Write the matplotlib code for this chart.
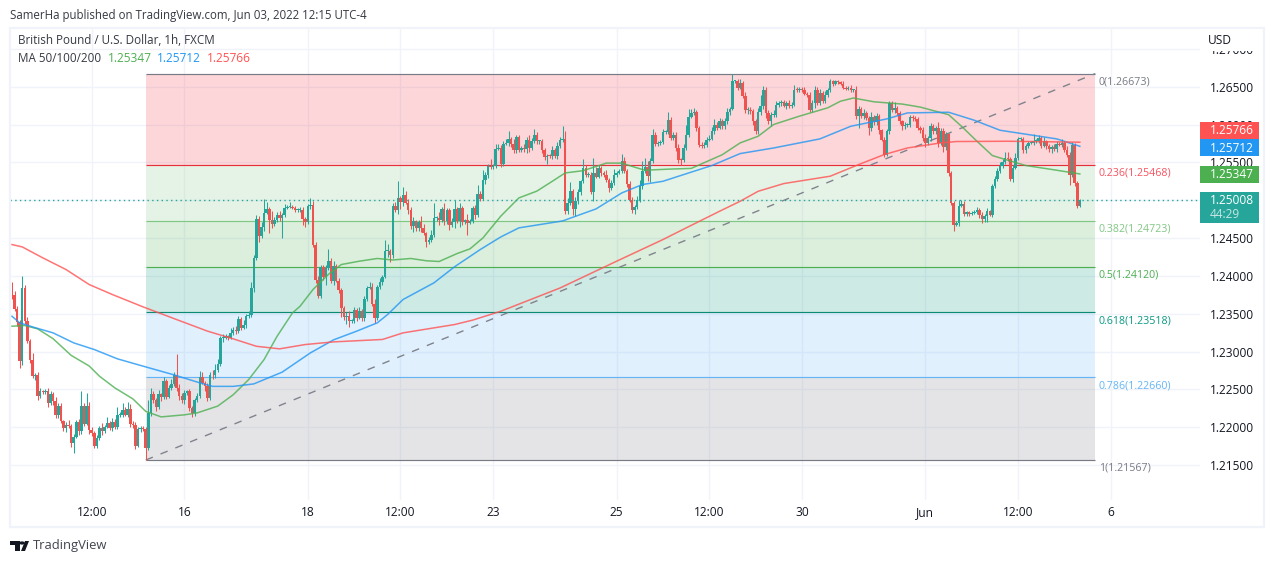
"""GBP/USD 1h chart with fibonacci retracement and moving averages"""

import matplotlib
matplotlib.use("Agg")
import matplotlib.pyplot as plt
from matplotlib.patches import Rectangle, Polygon
import numpy as np

W, H = 1274, 563
plt.rcParams['font.family'] = ['Open Sans', 'DejaVu Sans']

# closes, in pips above 1.2000
open_first = 375.4
close_pips = [
    374.1, 356.4, 339.3, 287.3, 384.2, 340.1, 313.7, 289.5, 267.5, 269.7,
    241.9, 247.7, 246.3, 247.7, 232.2, 244.6, 234.4, 216.8, 228.7, 208.0,
    199.2, 203.6, 202.3, 179.4, 187.3, 207.1, 194.8, 228.7, 204.9, 228.7,
    197.0, 192.6, 175.0, 186.0, 199.2, 195.2, 200.5, 205.8, 199.2, 206.7,
    200.1, 216.8, 216.8, 223.4, 216.8, 224.3, 204.9, 203.6, 175.9, 197.9,
    199.2, 197.9, 172.8, 219.0, 243.3, 235.8, 227.0, 243.3, 240.2, 260.9,
    240.2, 252.1, 257.8, 269.2, 252.1, 241.9, 235.8, 245.5, 247.7, 225.6,
    219.0, 236.6, 241.9, 266.6, 258.7, 254.3, 238.8, 269.7, 268.4, 276.3,
    284.2, 318.1, 318.1, 320.3, 318.1, 324.7, 329.1, 326.9, 343.2, 331.3,
    335.7, 346.7, 348.9, 384.2, 424.0, 475.3, 452.4, 464.7, 483.2, 488.5,
    474.4, 469.1, 474.4, 481.0, 476.6, 481.0, 489.8, 491.2, 491.2, 489.8,
    486.8, 487.7, 487.7, 475.3, 470.9, 492.1, 494.3, 441.4, 395.2, 373.2,
    411.9, 398.3, 410.6, 420.3, 393.0, 413.7, 393.9, 382.0, 357.7, 345.9,
    347.6, 340.1, 340.1, 354.7, 344.5, 353.3, 343.7, 368.8, 384.2, 385.5,
    363.5, 344.5, 385.5, 391.7, 398.7, 432.6, 432.6, 428.2, 492.1, 487.7,
    503.1, 497.4, 507.5, 496.5, 487.7, 465.6, 472.3, 463.4, 470.9, 463.4,
    456.0, 444.5, 448.0, 454.6, 476.7, 476.7, 473.6, 488.5, 472.3, 486.8,
    467.8, 470.9, 488.5, 472.3, 489.9, 470.9, 473.6, 470.0, 472.3, 489.9,
    481.0, 508.8, 501.8, 527.3, 533.9, 544.9, 544.0, 545.8, 567.8, 569.1,
    548.4, 574.8, 575.7, 581.0, 574.4, 566.0, 583.6, 566.9, 569.1, 567.8,
    580.1, 569.1, 577.9, 586.7, 577.9, 577.9, 566.0, 557.2, 559.0, 558.1,
    566.0, 559.0, 572.2, 580.1, 581.0, 485.4, 496.4, 511.8, 488.5, 498.6,
    510.5, 525.0, 542.7, 533.9, 533.9, 510.5, 536.1, 530.8, 542.7, 536.1,
    533.9, 526.4, 516.2, 522.8, 533.9, 536.1, 538.3, 551.5, 538.3, 522.0,
    500.8, 486.7, 491.1, 500.8, 518.4, 538.3, 544.0, 531.7, 551.5, 586.7,
    574.8, 575.7, 576.6, 589.8, 589.8, 606.5, 582.3, 586.7, 569.1, 553.7,
    552.8, 569.1, 586.7, 610.1, 615.3, 616.2, 595.5, 573.5, 572.2, 573.5,
    580.1, 581.0, 591.1, 599.9, 595.5, 604.3, 597.7, 604.3, 616.2, 620.6,
    657.2, 657.2, 648.4, 655.0, 637.4, 619.7, 619.7, 617.5, 604.3, 591.1,
    616.2, 624.1, 646.2, 615.3, 604.3, 613.1, 613.1, 625.5, 628.5, 629.4,
    625.0, 628.5, 625.0, 626.3, 646.2, 645.3, 647.0, 646.2, 640.4, 639.6,
    619.7, 628.5, 646.2, 628.5, 641.8, 630.8, 639.6, 645.3, 657.2, 654.1,
    657.2, 655.9, 654.1, 648.4, 647.0, 648.4, 645.3, 645.3, 610.9, 620.6,
    611.8, 615.3, 608.7, 595.5, 610.1, 603.0, 610.9, 592.4, 580.1, 560.3,
    591.1, 628.5, 619.7, 621.9, 615.3, 604.3, 597.7, 599.9, 599.9, 610.1,
    608.7, 607.4, 595.5, 593.3, 582.3, 575.7, 582.3, 597.7, 591.1, 595.5,
    575.7, 591.1, 570.4, 588.0, 536.1, 496.4, 467.8, 470.0, 492.9, 495.6,
    482.3, 484.1, 482.3, 483.2, 484.1, 487.6, 481.0, 475.3, 478.8, 485.4,
    481.0, 518.4, 528.1, 538.3, 544.9, 550.2, 555.9, 554.6, 528.1, 542.7,
    555.9, 581.0, 581.0, 566.0, 572.2, 575.7, 575.7, 577.9, 577.9, 582.3,
    572.2, 577.9, 572.2, 567.8, 570.4, 567.8, 574.8, 573.5, 575.7, 566.9,
    560.3, 533.9, 573.5, 522.8, 492.0, 500.8,
]
upper_wick = [
    16, 6, 4, 3, 16, 4, 5, 3, 8, 2, 3, 4, 2, 3, 4, 3, 2, 6, 4, 3,
    2, 3, 6, 2, 4, 3, 4, 19, 3, 16, 5, 3, 2, 4, 3, 6, 2, 8, 3, 5,
    4, 10, 3, 8, 4, 9, 6, 4, 3, 2, 3, 2, 3, 17, 8, 4, 3, 6, 2, 5,
    3, 4, 6, 4, 28, 5, 3, 4, 2, 3, 3, 2, 3, 8, 6, 3, 4, 3, 6, 7,
    6, 3, 5, 3, 2, 7, 3, 5, 4, 3, 6, 3, 5, 8, 3, 5, 4, 6, 18, 9,
    3, 11, 4, 3, 5, 2, 5, 3, 6, 2, 3, 2, 3, 3, 3, 3, 8, 5, 3, 4,
    2, 3, 4, 15, 3, 6, 2, 3, 2, 2, 5, 6, 3, 4, 3, 5, 3, 4, 3, 7,
    5, 6, 3, 5, 3, 15, 10, 3, 4, 5, 22, 3, 10, 4, 5, 3, 6, 2, 3, 8,
    5, 2, 4, 6, 19, 3, 8, 3, 8, 3, 3, 5, 12, 3, 6, 3, 2, 8, 3, 3,
    4, 11, 3, 12, 4, 3, 9, 2, 7, 5, 4, 3, 5, 11, 3, 6, 3, 2, 3, 5,
    3, 6, 4, 8, 3, 2, 3, 3, 2, 2, 6, 3, 5, 4, 17, 10, 6, 12, 3, 5,
    4, 2, 12, 4, 3, 3, 20, 8, 4, 3, 2, 6, 3, 4, 7, 2, 3, 9, 6, 3,
    3, 4, 3, 5, 8, 13, 12, 8, 4, 7, 4, 3, 3, 4, 3, 10, 4, 3, 3, 5,
    2, 5, 12, 10, 5, 5, 3, 3, 3, 4, 4, 5, 6, 7, 3, 4, 3, 4, 5, 2,
    10, 2, 3, 5, 3, 5, 4, 3, 3, 3, 6, 15, 5, 3, 4, 3, 6, 5, 3, 3,
    3, 2, 4, 3, 6, 3, 3, 2, 3, 2, 3, 4, 5, 3, 5, 3, 5, 3, 3, 2,
    2, 2, 2, 3, 2, 2, 4, 2, 6, 4, 3, 5, 3, 3, 6, 2, 4, 3, 2, 3,
    3, 2, 3, 8, 2, 3, 2, 3, 2, 3, 2, 2, 2, 3, 3, 5, 3, 4, 3, 3,
    8, 4, 4, 2, 1, 2, 3, 3, 7, 4, 3, 2, 2, 3, 3, 3, 2, 3, 3, 4,
    2, 3, 4, 4, 5, 4, 8, 8, 3, 4, 6, 3, 3, 3, 2, 2, 3, 9, 3, 4,
    3, 6, 2, 2, 2, 4, 3, 2, 5, 2, 5, 3, 3, 2, 3, 1,
]
lower_wick = [
    4, 3, 6, 9, 5, 4, 3, 4, 3, 5, 6, 3, 2, 3, 6, 3, 5, 4, 5, 3,
    4, 6, 3, 5, 13, 2, 5, 4, 3, 2, 6, 4, 2, 3, 3, 5, 3, 2, 3, 4,
    3, 2, 3, 3, 2, 3, 5, 4, 4, 2, 4, 3, 16, 3, 4, 4, 6, 3, 6, 3,
    3, 2, 3, 3, 4, 6, 4, 5, 3, 4, 5, 4, 3, 3, 2, 6, 4, 3, 4, 3,
    3, 3, 6, 2, 3, 2, 3, 4, 2, 3, 2, 4, 3, 3, 5, 3, 8, 3, 5, 2,
    18, 6, 3, 3, 4, 26, 3, 2, 2, 2, 3, 3, 3, 8, 6, 2, 4, 3, 4, 3,
    3, 4, 10, 3, 3, 5, 2, 4, 12, 4, 9, 8, 2, 3, 4, 2, 3, 3, 2, 2,
    3, 7, 3, 3, 4, 2, 8, 10, 4, 3, 6, 9, 5, 2, 6, 3, 8, 4, 4, 5,
    2, 6, 3, 3, 3, 4, 6, 3, 5, 4, 7, 3, 8, 3, 8, 4, 2, 16, 2, 3,
    6, 3, 3, 2, 6, 4, 3, 3, 3, 2, 4, 3, 2, 4, 4, 4, 3, 3, 3, 4,
    5, 5, 3, 2, 4, 4, 3, 4, 10, 3, 4, 3, 4, 3, 3, 3, 4, 3, 8, 10,
    3, 4, 2, 3, 3, 2, 11, 2, 2, 4, 3, 3, 6, 3, 3, 3, 2, 2, 3, 4,
    3, 4, 5, 3, 3, 4, 3, 6, 8, 2, 3, 3, 3, 3, 3, 3, 3, 3, 4, 4,
    6, 2, 3, 3, 2, 3, 4, 3, 3, 3, 3, 2, 2, 3, 3, 2, 4, 3, 3, 3,
    2, 3, 3, 2, 3, 5, 6, 3, 5, 4, 3, 3, 3, 7, 4, 6, 3, 3, 3, 4,
    2, 4, 3, 3, 2, 3, 3, 3, 2, 3, 3, 3, 7, 3, 3, 3, 3, 3, 2, 3,
    2, 2, 2, 2, 2, 2, 3, 2, 3, 16, 3, 4, 3, 9, 4, 3, 3, 5, 2, 3,
    2, 4, 3, 4, 3, 4, 5, 3, 3, 3, 4, 3, 3, 4, 4, 6, 3, 4, 3, 3,
    6, 3, 7, 4, 4, 3, 9, 2, 4, 2, 3, 3, 3, 2, 2, 2, 4, 5, 4, 7,
    2, 3, 2, 3, 3, 2, 2, 3, 3, 4, 2, 3, 3, 4, 3, 3, 2, 3, 2, 2,
    3, 2, 4, 4, 6, 3, 4, 2, 3, 3, 3, 14, 3, 4, 2, 1,
]

# moving averages, bar number and pips above 1.2000
ma50_bar = [0, 5, 10, 16, 23, 30, 34, 40, 47, 52, 58, 67, 72, 80, 86, 92, 98, 103, 109, 112, 117, 123, 128,
            135, 142, 148, 155, 161, 166, 173, 178, 183, 190, 197, 204, 210, 215, 222, 231, 237, 242, 246,
            255, 264, 270, 276, 283, 290, 296, 306, 317, 322, 327, 335, 346, 353, 359, 364, 369, 375, 381,
            387, 394, 406, 415]
ma50_val = [333.5, 334.4, 330, 317, 295, 281, 267.5, 252, 237.5, 221, 213.7, 216.4, 219, 228, 243, 263, 289.5,
            320, 351, 360, 382, 402, 415, 419.4, 423, 421, 423, 420, 419, 429.5, 435.7, 450, 479, 503, 512,
            525, 536, 539, 549, 549, 543.6, 539.6, 541, 542, 551, 560, 575.7, 584.5, 600, 611, 622, 630.8,
            635, 630, 627, 623, 617.5, 613, 597.7, 578, 559, 552.8, 545.8, 539.6, 534.7]
ma100_bar = [0, 3, 8, 16, 24, 32, 41, 51, 63, 73, 78, 86, 94, 105, 116, 125, 134, 142, 146, 152, 164, 172, 182,
             190, 197, 214, 227, 237, 245, 253, 263, 272, 283, 296, 314, 326, 340, 348, 364, 374, 384, 395,
             406, 415]
ma100_val = [346.7, 338, 332.6, 324.7, 311.5, 302.7, 290.4, 280.7, 269.2, 258.7, 254, 254, 257.3, 272.8, 298.3,
             315.5, 327, 338, 349, 368.8, 390.8, 412, 434.8, 451.5, 463.4, 472.6, 488.5, 509.6, 520.7, 525,
             536, 545.8, 561.6, 569, 581, 597.7, 607.4, 615.3, 616.2, 605.6, 592.4, 586.7, 581, 571.2]
ma200_bar = [0, 4, 12, 21, 30, 39, 51, 64, 76, 86, 95, 104, 114, 125, 144, 152, 172, 179, 190, 213, 236, 253,
             262, 275, 283, 290, 300, 318, 329, 339, 348, 361, 367, 387, 415]
ma200_val = [441.4, 438.3, 423.8, 408.4, 388.6, 375.4, 359, 342.3, 327, 316.8, 307, 303.6, 309.3, 312.8, 316,
             324.7, 335.7, 341.5, 353.3, 384, 421, 448, 463.4, 485.4, 498.6, 511.8, 522, 531.7, 547, 560.3,
             569, 575.7, 577.5, 577.9, 576.6]

# fibonacci levels
fib_ratio = ['0', '0.236', '0.382', '0.5', '0.618', '0.786', '1']
fib_price = [1.26673, 1.25468, 1.24723, 1.24120, 1.23518, 1.22660, 1.21567]
fib_line = ['#787b86', '#e5303c', '#81c784', '#4caf50', '#0b8a74', '#64b5f6', '#787b86']
fib_fill = ['#f23645', '#81c784', '#4caf50', '#089981', '#64b5f6', '#787b86']
fib_text = ['#787b86', '#f7525f', '#81c784', '#4caf50', '#089981', '#64b5f6', '#787b86']
fib_start, fib_end = 52, 421

price_ticks = [1.215, 1.22, 1.225, 1.23, 1.235, 1.24, 1.245, 1.25, 1.255, 1.26, 1.265, 1.27]
time_ticks = [31, 67, 115, 151, 187, 235, 271, 307, 355, 391, 427]
time_labels = ['12:00', '16', '18', '12:00', '23', '25', '12:00', '30', 'Jun', '12:00', '6']

last_price = 1.25008
up_color = '#26a69a'
down_color = '#ef5350'
text_color = '#131722'
frame_color = '#f0f3fa'


def to_price(pips):
    return 1.2 + np.array(pips) / 1e4


def fig_xy(x, y):
    """pixel position (from top left) to figure fraction"""
    return x / W, 1 - y / H


def badge(fig, x0, y0, x1, y1, color):
    fig.add_artist(Rectangle(fig_xy(x0, y1), (x1 - x0) / W, (y1 - y0) / H, transform=fig.transFigure,
                             facecolor=color, edgecolor='none', zorder=2))


def label(fig, x, y, s, color=text_color, size=8.6, **kwargs):
    fig.text(*fig_xy(x, y), s, color=color, fontsize=size, va='center', **kwargs)


def plot_candles(ax):
    closes = to_price(close_pips)
    opens = to_price([open_first] + close_pips[:-1])
    highs = np.maximum(opens, closes) + np.array(upper_wick) / 1e4
    lows = np.minimum(opens, closes) - np.array(lower_wick) / 1e4
    bars = np.arange(len(closes))
    colors = [up_color if c >= o else down_color for o, c in zip(opens, closes)]

    ax.vlines(bars, lows, highs, colors=colors, linewidth=0.75, zorder=5)
    heights = np.maximum(np.abs(closes - opens), 0.00012)
    ax.bar(bars, heights, bottom=np.minimum(opens, closes), width=0.98, color=colors, linewidth=0, zorder=6)


def plot_fib(ax):
    for i in range(len(fib_fill)):
        ax.fill_between([fib_start, fib_end], fib_price[i], fib_price[i + 1], color=fib_fill[i],
                        alpha=0.2, linewidth=0, zorder=2)
    ax.hlines(fib_price, fib_start, fib_end, colors=fib_line, linewidth=0.85, zorder=3)
    ax.plot([fib_start, fib_end], [fib_price[-1], fib_price[0]], color='#80838d', linewidth=1.0,
            dashes=(5.5, 6), zorder=4)
    for i, ratio in enumerate(fib_ratio):
        ax.annotate(f'{ratio}({fib_price[i]:.5f})', (fib_end, fib_price[i]), xytext=(2.5, -5.9),
                    textcoords='offset points', color=fib_text[i], fontsize=7.7, va='center')


def main():
    fig = plt.figure(figsize=(W / 100, H / 100), dpi=100, facecolor='white')
    ax = fig.add_axes([10 / W, 1 - 500 / H, 1190 / W, 472 / H])
    ax.set_xlim(-0.75, 461.7)
    ax.set_ylim(1.21039, 1.27275)
    for spine in ax.spines.values():
        spine.set_visible(False)

    ax.set_xticks(time_ticks)
    ax.set_xticklabels(time_labels)
    ax.set_yticks(price_ticks)
    ax.set_yticklabels([f'{p:.5f}' for p in price_ticks])
    ax.yaxis.tick_right()
    ax.tick_params(axis='both', length=0, labelcolor=text_color, labelsize=8.6)
    ax.tick_params(axis='x', pad=4.5)
    ax.tick_params(axis='y', pad=7.5)
    ax.grid(True, color=frame_color, linewidth=1.0, zorder=0)
    ax.set_axisbelow(True)

    plot_fib(ax)
    ax.plot(ma50_bar, to_price(ma50_val), color='#4caf50', linewidth=1.1, alpha=0.8, zorder=7)
    ax.plot(ma100_bar, to_price(ma100_val), color='#2196f3', linewidth=1.1, alpha=0.8, zorder=7)
    ax.plot(ma200_bar, to_price(ma200_val), color='#ff5252', linewidth=1.1, alpha=0.8, zorder=7)
    plot_candles(ax)
    ax.axhline(last_price, color=up_color, linewidth=1.0, dashes=(1, 2.4), zorder=8)

    # frame around the chart
    fig.add_artist(Rectangle(fig_xy(10, 527), 1254 / W, 499 / H, transform=fig.transFigure, facecolor='none',
                             edgecolor=frame_color, linewidth=1.6, zorder=1))

    # header and legend
    label(fig, 10, 15, 'SamerHa published on TradingView.com, Jun 03, 2022 12:15 UTC-4', size=8.3, alpha=0.85)
    label(fig, 18, 41, 'British Pound / U.S. Dollar, 1h, FXCM', size=8.4, alpha=0.85)
    label(fig, 18, 59, 'MA 50/100/200', size=8.4, alpha=0.85)
    label(fig, 108, 59, '1.25347', color='#4caf50', size=8.6)
    label(fig, 157, 59, '1.25712', color='#2196f3', size=8.6)
    label(fig, 207, 59, '1.25766', color='#ff5252', size=8.6)

    # price axis title hides the upper part of the top tick
    fig.add_artist(Rectangle(fig_xy(1202, 51), 60 / W, 22 / H, transform=fig.transFigure, facecolor='white',
                             edgecolor='none', zorder=2))
    label(fig, 1208, 41, 'USD', size=8.6)

    # last value badges
    badge(fig, 1200, 122, 1259, 139, '#ff5252')
    badge(fig, 1200, 139, 1259, 156, '#2196f3')
    badge(fig, 1200, 166, 1259, 183, '#4caf50')
    badge(fig, 1200, 192, 1259, 223, up_color)
    label(fig, 1210, 131, '1.25766', color='white', size=8.6)
    label(fig, 1210, 148, '1.25712', color='white', size=8.6)
    label(fig, 1210, 175, '1.25347', color='white', size=8.6)
    label(fig, 1210, 201, '1.25008', color='white', size=8.6)
    label(fig, 1210, 215, '44:29', color='#c8e6e2', size=8.6)

    # logo
    logo = [[(10, 541), (20, 541), (20, 551), (15, 551), (15, 545), (10, 545)],
            [(21, 551), (25, 541), (29, 541), (25, 551)]]
    for points in logo:
        fig.add_artist(Polygon([fig_xy(*p) for p in points], closed=True, transform=fig.transFigure,
                               facecolor=text_color, edgecolor='none'))
    fig.add_artist(plt.Circle(fig_xy(22, 543), 0.0016, transform=fig.transFigure, color=text_color))
    label(fig, 33, 546, 'TradingView', size=9.4, alpha=0.8)

    fig.savefig('out.png', dpi=100)


if __name__ == '__main__':
    main()
